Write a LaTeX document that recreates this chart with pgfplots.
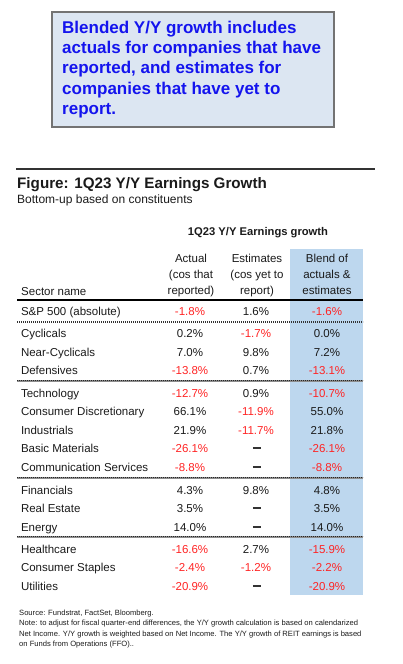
\documentclass[border=0pt]{standalone}
\usepackage{pgfplots}
\pgfplotsset{compat=1.18}
\usepackage{pgfplotstable}
\usepackage{fontspec}
\setmainfont{Liberation Sans}
\definecolor{boxfill}{HTML}{DCE6F2}
\definecolor{boxtext}{HTML}{1414EE}
\definecolor{colblue}{HTML}{BDD7EE}
\definecolor{negred}{HTML}{FF2424}
\definecolor{txt}{HTML}{1A1A1A}
\newcommand\rowfont{\fontsize{11.5bp}{13bp}\selectfont}

\pgfplotstableread[col sep=comma]{
y,name,actual,blend
311,S\&P 500 (absolute),-1.8,-1.6
333,Cyclicals,0.2,0.0
352,Near-Cyclicals,7.0,7.2
370,Defensives,-13.8,-13.1
393,Technology,-12.7,-10.7
411,Consumer Discretionary,66.1,55.0
430,Industrials,21.9,21.8
448,Basic Materials,-26.1,-26.1
467,Communication Services,-8.8,-8.8
490,Financials,4.3,4.8
508,Real Estate,3.5,3.5
527,Energy,14.0,14.0
549,Healthcare,-16.6,-15.9
567,Consumer Staples,-2.4,-2.2
586,Utilities,-20.9,-20.9
}\sectors

\pgfplotstableread[col sep=comma]{
y,est
311,1.6
333,-1.7
352,9.8
370,0.7
393,0.9
411,-11.9
430,-11.7
490,9.8
549,2.7
567,-1.2
}\estimates

\pgfplotsset{
  cell/.style={draw=none, mark=none, nodes near coords,
    every node near coord/.append style={anchor=center, inner sep=0pt, outer sep=0pt,
      text height=8.3bp, text depth=0pt, font=\rowfont, text=txt}},
  valcell/.style={cell, point meta=explicit symbolic,
    nodes near coords={\pgfmathparse{\pgfplotspointmeta<0}\ifdim\pgfmathresult pt>0.5pt\color{negred}\fi\pgfplotspointmeta\%}},
}
\tikzset{
  seprule/.style={line width=1.6bp, black!45},
  sepdots/.style={line width=0.7bp, black!85, dash pattern=on 1bp off 1bp},
}

\begin{document}
\begin{tikzpicture}
\begin{axis}[
  width=403bp, height=664bp, scale only axis,
  xmin=0, xmax=403, ymin=0, ymax=664, y dir=reverse,
  hide axis, clip=false,
]
\path (axis cs:0,0) rectangle (axis cs:403,664);
% text box
\draw[draw=black!55, fill=boxfill, line width=1.1bp] (axis cs:52,12) rectangle (axis cs:334,127);
\begin{scope}[every node/.style={anchor=base west, inner sep=0pt, text=boxtext, font=\fontsize{17bp}{20bp}\selectfont\bfseries}]
\node at (axis cs:62,33.5) {Blended Y/Y growth includes};
\node at (axis cs:62,53.8) {actuals for companies that have};
\node at (axis cs:62,74) {reported, and estimates for};
\node at (axis cs:62,94.3) {companies that have yet to};
\node at (axis cs:62,114.5) {report.};
\end{scope}
% title block
\draw[line width=1.5bp, black!80] (axis cs:16,169) -- (axis cs:375,169);
\node[anchor=base west, inner sep=0pt, font=\fontsize{15.2bp}{17bp}\selectfont\bfseries, text=txt] at (axis cs:17,188.5) {Figure: 1Q23 Y/Y Earnings Growth};
\node[anchor=base west, inner sep=0pt, font=\fontsize{12bp}{14bp}\selectfont, text=txt] at (axis cs:17,203.3) {Bottom-up based on constituents};
% table header
\fill[colblue] (axis cs:290,249) rectangle (axis cs:363,595);
\node[anchor=base, inner sep=0pt, font=\fontsize{11.2bp}{13bp}\selectfont\bfseries, text=txt] at (axis cs:258,235) {1Q23 Y/Y Earnings growth};
\begin{scope}[every node/.style={anchor=base, inner sep=0pt, font=\rowfont, text=txt}]
\node at (axis cs:191,262) {Actual};
\node at (axis cs:191,278) {(cos that};
\node at (axis cs:191,294) {reported)};
\node at (axis cs:257,262) {Estimates};
\node at (axis cs:257,278) {(cos yet to};
\node at (axis cs:257,294) {report)};
\node at (axis cs:327,262) {Blend of};
\node at (axis cs:327,278) {actuals \&};
\node at (axis cs:327,294) {estimates};
\node[anchor=base west] at (axis cs:21,295) {Sector name};
\end{scope}
% rules
\draw[line width=1.8bp, black] (axis cs:17,300) -- (axis cs:363,300);
\draw[line width=1.3bp, black!80, dash pattern=on 1bp off 1bp] (axis cs:17,322) -- (axis cs:363,322);
\draw[seprule] (axis cs:17,381) -- (axis cs:363,381);
\draw[sepdots] (axis cs:17,380.6) -- (axis cs:363,380.6);
\draw[seprule] (axis cs:17,478) -- (axis cs:363,478);
\draw[sepdots] (axis cs:17,477.6) -- (axis cs:363,477.6);
\draw[seprule] (axis cs:17,537) -- (axis cs:363,537);
\draw[sepdots] (axis cs:17,536.6) -- (axis cs:363,536.6);
% sector names
\addplot[cell, point meta=explicit symbolic, nodes near coords={\pgfplotspointmeta},
  every node near coord/.append style={anchor=west}]
  table[x expr=21, y=y, meta=name] {\sectors};
% values
\addplot[valcell] table[x expr=190, y=y, meta=actual] {\sectors};
\addplot[valcell] table[x expr=256, y=y, meta=est] {\estimates};
\addplot[valcell] table[x expr=327, y=y, meta=blend] {\sectors};
% missing estimates
\addplot[cell, nodes near coords={\raisebox{3.6bp}{\rule{8.5bp}{1.1bp}}},
  every node near coord/.append style={text=black!80}]
  coordinates {(257,448) (257,467) (257,508) (257,527) (257,586)};
% footnotes
\begin{scope}[every node/.style={anchor=base west, inner sep=0pt, font=\fontsize{7.6bp}{9bp}\selectfont, text=txt}]
\node at (axis cs:19,615) {Source: Fundstrat, FactSet, Bloomberg.};
\node at (axis cs:19,625.7) {Note: to adjust for fiscal quarter-end differences, the Y/Y growth calculation is based on calendarized};
\node at (axis cs:19,636) {Net Income. Y/Y growth is weighted based on Net Income. The Y/Y growth of REIT earnings is based};
\node at (axis cs:19,646.3) {on Funds from Operations (FFO)..};
\end{scope}
\end{axis}
\end{tikzpicture}
\end{document}
